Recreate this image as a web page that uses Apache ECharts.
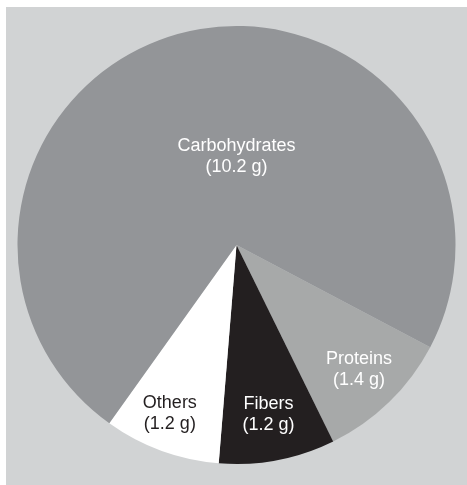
<!DOCTYPE html>
<html>
<head>
<meta charset="utf-8">
<script src="https://cdn.jsdelivr.net/npm/echarts@6/dist/echarts.min.js"></script>
<style>
  html, body { margin: 0; padding: 0; background: #ffffff; }
  #chart { width: 467px; height: 485px; }
</style>
</head>
<body>
<div id="chart"></div>
<script>
// nutrient breakdown, clockwise from the right-hand side
var categories = ['Proteins', 'Fibers', 'Others', 'Carbohydrates'];
var grams = [1.4, 1.2, 1.2, 10.2];
var colors = ['#a7a9a9', '#231f20', '#ffffff', '#939598'];
var labelColors = ['#ffffff', '#ffffff', '#231f20', '#ffffff'];
// nudge each label from the slice middle to where the original has it
var labelOffsets = [[44, 44], [11, 59], [-28, 63], [26, 21]];

var chart = echarts.init(document.getElementById('chart'), null, { renderer: 'canvas' });

var data = categories.map(function (name, i) {
    return {
        name: name,
        value: grams[i],
        itemStyle: { color: colors[i] },
        label: { offset: labelOffsets[i], color: labelColors[i] }
    };
});

chart.setOption({
    animation: false,
    backgroundColor: '#ffffff',
    graphic: [{
        type: 'rect',
        z: -10,
        shape: { x: 6, y: 7, width: 461, height: 478 },
        style: { fill: '#d1d3d4' }
    }],
    series: [{
        type: 'pie',
        center: [236.5, 245],
        radius: [0, 219],
        startAngle: 332.2,
        clockwise: true,
        avoidLabelOverlap: false,
        itemStyle: { borderWidth: 0 },
        emphasis: { disabled: true },
        label: {
            show: true,
            position: 'inside',
            fontFamily: 'Liberation Sans, Arial, sans-serif',
            fontSize: 18,
            lineHeight: 21,
            align: 'center',
            formatter: function (p) {
                return p.name + '\n(' + p.value.toFixed(1) + ' g)';
            }
        },
        labelLine: { show: false },
        data: data
    }]
});
</script>
</body>
</html>
